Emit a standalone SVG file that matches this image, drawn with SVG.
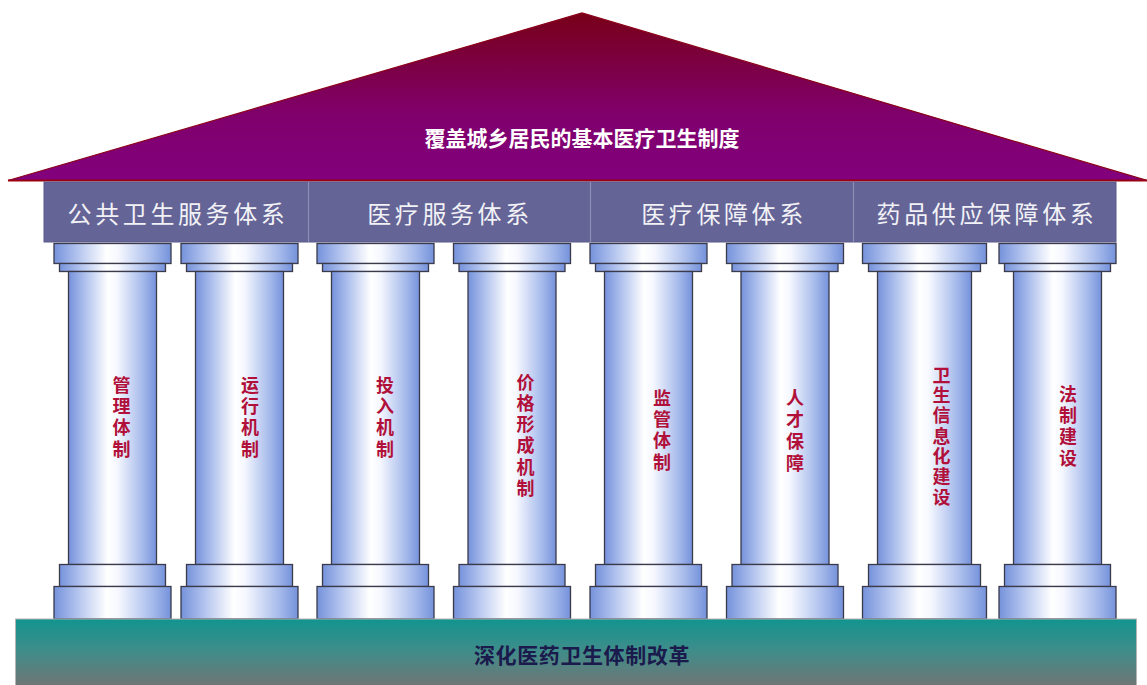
<svg xmlns="http://www.w3.org/2000/svg" width="1147" height="685" viewBox="0 0 1147 685">
  <defs>
    <linearGradient id="roofFill" x1="0" y1="0" x2="0" y2="1">
      <stop offset="0" stop-color="#780018"/>
      <stop offset="0.6" stop-color="#80006c"/>
      <stop offset="1" stop-color="#82007c"/>
    </linearGradient>
    <linearGradient id="pillarFill" x1="0" y1="0" x2="1" y2="0">
      <stop offset="0" stop-color="#7592db"/>
      <stop offset="0.2" stop-color="#b2c3ee"/>
      <stop offset="0.45" stop-color="#ffffff"/>
      <stop offset="0.55" stop-color="#f6f8ff"/>
      <stop offset="0.85" stop-color="#a3b8ea"/>
      <stop offset="1" stop-color="#7592db"/>
    </linearGradient>
    <linearGradient id="baseFill" x1="0" y1="0" x2="0" y2="1">
      <stop offset="0" stop-color="#12948f"/>
      <stop offset="0.45" stop-color="#3f8d8a"/>
      <stop offset="1" stop-color="#737373"/>
    </linearGradient>
    <!-- one pillar: capital, shaft and plinth, centred on x=0 -->
    <g id="pillar">
      <rect class="part" x="-58.5" y="243.5" width="117" height="20"/>
      <rect class="part" x="-53" y="263.5" width="106" height="8"/>
      <rect class="part" x="-44" y="271.5" width="88" height="293"/>
      <rect class="part" x="-53" y="564.5" width="106" height="22"/>
      <rect class="part" x="-58.5" y="586.5" width="117" height="32.5"/>
    </g>
    <g id="pillarWide">
      <rect class="part" x="-62" y="243.5" width="124" height="20"/>
      <rect class="part" x="-56" y="263.5" width="112" height="8"/>
      <rect class="part" x="-47" y="271.5" width="94" height="293"/>
      <rect class="part" x="-56" y="564.5" width="112" height="22"/>
      <rect class="part" x="-62" y="586.5" width="124" height="32.5"/>
    </g>
  </defs>
  <style>
    .part { fill: url(#pillarFill); stroke: #3a3a4a; stroke-width: 1.3; }
    .cjk { font-family: "Noto Sans CJK SC", "Noto Sans", sans-serif; }
    .roofText { fill: #ffffff; font-size: 21px; font-weight: 700; text-anchor: middle; }
    .headText { fill: #f2f2f6; font-size: 24px; letter-spacing: 3.6px; text-anchor: middle; }
    .pillarText { fill: #b0103a; font-size: 18px; font-weight: 700; writing-mode: vertical-rl; dominant-baseline: central; }
    .baseText { fill: #1a1a4c; font-size: 21px; font-weight: 700; letter-spacing: 0.6px; text-anchor: middle; }
  </style>

  <rect width="1147" height="685" fill="#ffffff"/>

  <!-- roof -->
  <g id="roof">
    <polygon points="8,180.5 582,13 1147,180.5" fill="url(#roofFill)" stroke="#8a0018" stroke-width="1.2"/>
    <line x1="8" y1="180.5" x2="1147" y2="180.5" stroke="#9a0010" stroke-width="2"/>
    <text class="cjk roofText" x="582" y="146">覆盖城乡居民的基本医疗卫生制度</text>
  </g>

  <!-- band of the four systems -->
  <g id="systems">
    <rect x="44" y="182" width="1072" height="60" fill="#646496" stroke="#58588a" stroke-width="1"/>
    <line x1="308.5" y1="182" x2="308.5" y2="242" stroke="#8c8cb4" stroke-width="1.2"/>
    <line x1="590.5" y1="182" x2="590.5" y2="242" stroke="#8c8cb4" stroke-width="1.2"/>
    <line x1="853.5" y1="182" x2="853.5" y2="242" stroke="#8c8cb4" stroke-width="1.2"/>
    <text class="cjk headText" x="178" y="223">公共卫生服务体系</text>
    <text class="cjk headText" x="450" y="223">医疗服务体系</text>
    <text class="cjk headText" x="724" y="223">医疗保障体系</text>
    <text class="cjk headText" x="987" y="223">药品供应保障体系</text>
  </g>

  <!-- pillars, each with its label set top to bottom -->
  <g id="pillar-1">
    <use href="#pillar" x="112.5"/>
    <text class="cjk pillarText" x="121.5" y="376" letter-spacing="3.3">管理体制</text>
  </g>
  <g id="pillar-2">
    <use href="#pillar" x="239.5"/>
    <text class="cjk pillarText" x="250" y="376" letter-spacing="3.3">运行机制</text>
  </g>
  <g id="pillar-3">
    <use href="#pillar" x="375.5"/>
    <text class="cjk pillarText" x="385" y="376" letter-spacing="3.3">投入机制</text>
  </g>
  <g id="pillar-4">
    <use href="#pillar" x="512"/>
    <text class="cjk pillarText" x="525.5" y="373" letter-spacing="3.2">价格形成机制</text>
  </g>
  <g id="pillar-5">
    <use href="#pillar" x="648.5"/>
    <text class="cjk pillarText" x="662" y="389" letter-spacing="3.3">监管体制</text>
  </g>
  <g id="pillar-6">
    <use href="#pillar" x="785"/>
    <text class="cjk pillarText" x="795" y="388" letter-spacing="4">人才保障</text>
  </g>
  <g id="pillar-7">
    <use href="#pillarWide" x="924.5"/>
    <text class="cjk pillarText" x="941.5" y="366" letter-spacing="2.3">卫生信息化建设</text>
  </g>
  <g id="pillar-8">
    <use href="#pillar" x="1057.5"/>
    <text class="cjk pillarText" x="1068" y="385" letter-spacing="3.3">法制建设</text>
  </g>

  <!-- foundation -->
  <g id="foundation">
    <rect x="15.5" y="619" width="1121" height="70" fill="url(#baseFill)" stroke="#b4b4b4" stroke-width="1"/>
    <text class="cjk baseText" x="582" y="663">深化医药卫生体制改革</text>
  </g>

  <!-- no connectors in this drawing -->
  <g id="connectors"/>
</svg>
